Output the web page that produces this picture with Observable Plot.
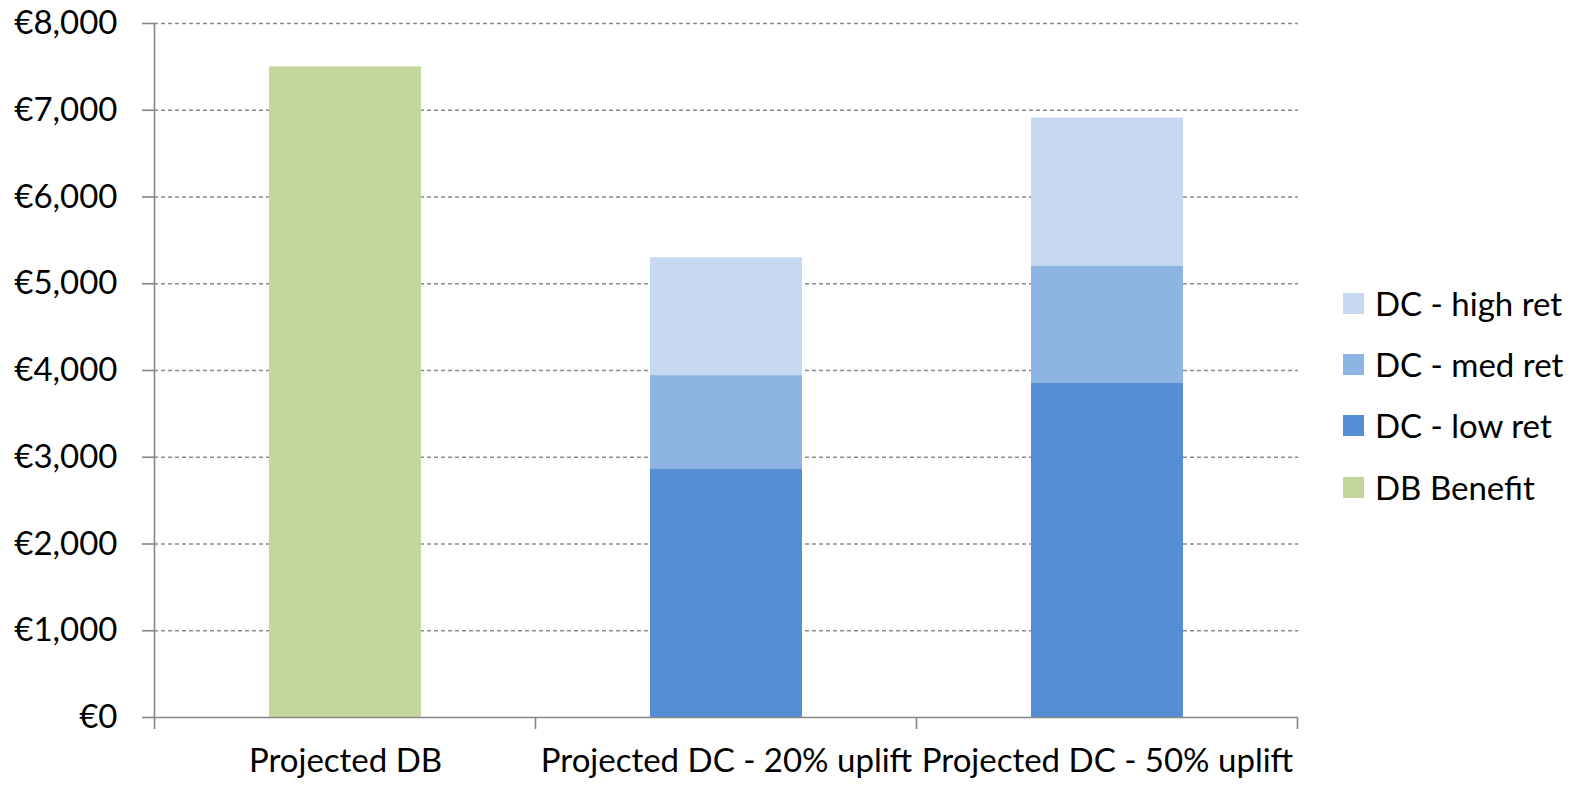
<!DOCTYPE html>
<html>
<head>
<meta charset="utf-8">
<script src="https://cdn.jsdelivr.net/npm/d3@7"></script>
<script src="https://cdn.jsdelivr.net/npm/@observablehq/plot@0.6"></script>
<style>
  html, body { margin: 0; padding: 0; background: #fff; }
  #wrap { position: relative; width: 1581px; height: 785px; font-family: Lato, "Noto Sans", sans-serif; }
  #legend { position: absolute; left: 1343px; top: 0; }
  .item { position: absolute; left: 0; display: flex; align-items: center; white-space: nowrap; font-size: 33px; color: #000; }
  .sw { width: 21px; height: 21px; margin-right: 11px; }
</style>
</head>
<body>
<div id="wrap"><div id="legend"></div></div>
<script>
// Categories and series
const categories = ["Projected DB", "Projected DC - 20% uplift", "Projected DC - 50% uplift"];
const seriesNames = ["DC - high ret", "DC - med ret", "DC - low ret", "DB Benefit"];
const seriesColors = ["#C6D9F1", "#8EB4E3", "#558ED5", "#C3D69B"];

// Projected annual benefit (€) per category, one array per series
const dcHighRet = [null, 5300, 6910];
const dcMedRet = [null, 3940, 5200];
const dcLowRet = [null, 2860, 3850];
const dbBenefit = [7500, null, null];

const yTicks = [0, 1000, 2000, 3000, 4000, 5000, 6000, 7000, 8000];

// Bars overlap from zero: the larger outcome is drawn first, the smaller on top
const seriesValues = [dcHighRet, dcMedRet, dcLowRet, dbBenefit];
const rows = [];
seriesNames.forEach((s, i) => {
  categories.forEach((c, j) => {
    const v = seriesValues[i][j];
    if (v != null) rows.push({category: c, series: s, value: v});
  });
});

const W = 1581, H = 785;
const mL = 154, mR = 283, mT = 23, mB = 68;
const axisColor = "#868686";

const chart = Plot.plot({
  width: W,
  height: H,
  marginLeft: mL,
  marginRight: mR,
  marginTop: mT,
  marginBottom: mB,
  style: {fontFamily: "Lato, 'Noto Sans', sans-serif", fontSize: "33px", color: "#000", background: "#fff", overflow: "visible"},
  x: {domain: categories, paddingInner: 0.6, paddingOuter: 0.3, label: null},
  y: {domain: [0, 8000], label: null},
  color: {domain: seriesNames, range: seriesColors},
  marks: [
    Plot.ruleY(yTicks.slice(1), {stroke: "#8a8a8a", strokeWidth: 1.3, strokeDasharray: "4,3"}),
    Plot.barY(rows, {x: "category", y1: 0, y2: "value", fill: "series"}),
    Plot.ruleY([0], {stroke: axisColor, strokeWidth: 1.6}),
    Plot.axisY({ticks: yTicks, tickSize: 12, tickPadding: 25, stroke: axisColor, strokeWidth: 1.6,
      tickFormat: d => "€" + d3.format(",")(d), label: null}),
    Plot.axisX({tickSize: 0, tickPadding: 31, label: null})
  ]
});

// Left axis line and category boundary ticks, positioned from the chart's scales
const xs = chart.scale("x");
const ys = chart.scale("y");
const step = xs.step;
const svg = d3.select(chart);
const y0 = ys.apply(0), yTop = ys.apply(8000);
const bounds = categories.map(c => xs.apply(c) + xs.bandwidth / 2 - step / 2);
bounds.push(bounds[bounds.length - 1] + step);
const g = svg.append("g").attr("stroke", axisColor).attr("stroke-width", 1.6);
g.append("line").attr("x1", bounds[0]).attr("x2", bounds[0]).attr("y1", yTop).attr("y2", y0);
bounds.forEach(b => g.append("line").attr("x1", b).attr("x2", b).attr("y1", y0).attr("y2", y0 + 12));

document.getElementById("wrap").prepend(chart);

// Legend, listed top to bottom in series order
const legend = d3.select("#legend");
const legendY = [303, 364, 425, 487];
seriesNames.forEach((s, i) => {
  const item = legend.append("div").attr("class", "item").style("top", (legendY[i] - 20) + "px").style("height", "40px");
  item.append("div").attr("class", "sw").style("background", seriesColors[i]);
  item.append("span").text(s);
});
</script>
</body>
</html>
